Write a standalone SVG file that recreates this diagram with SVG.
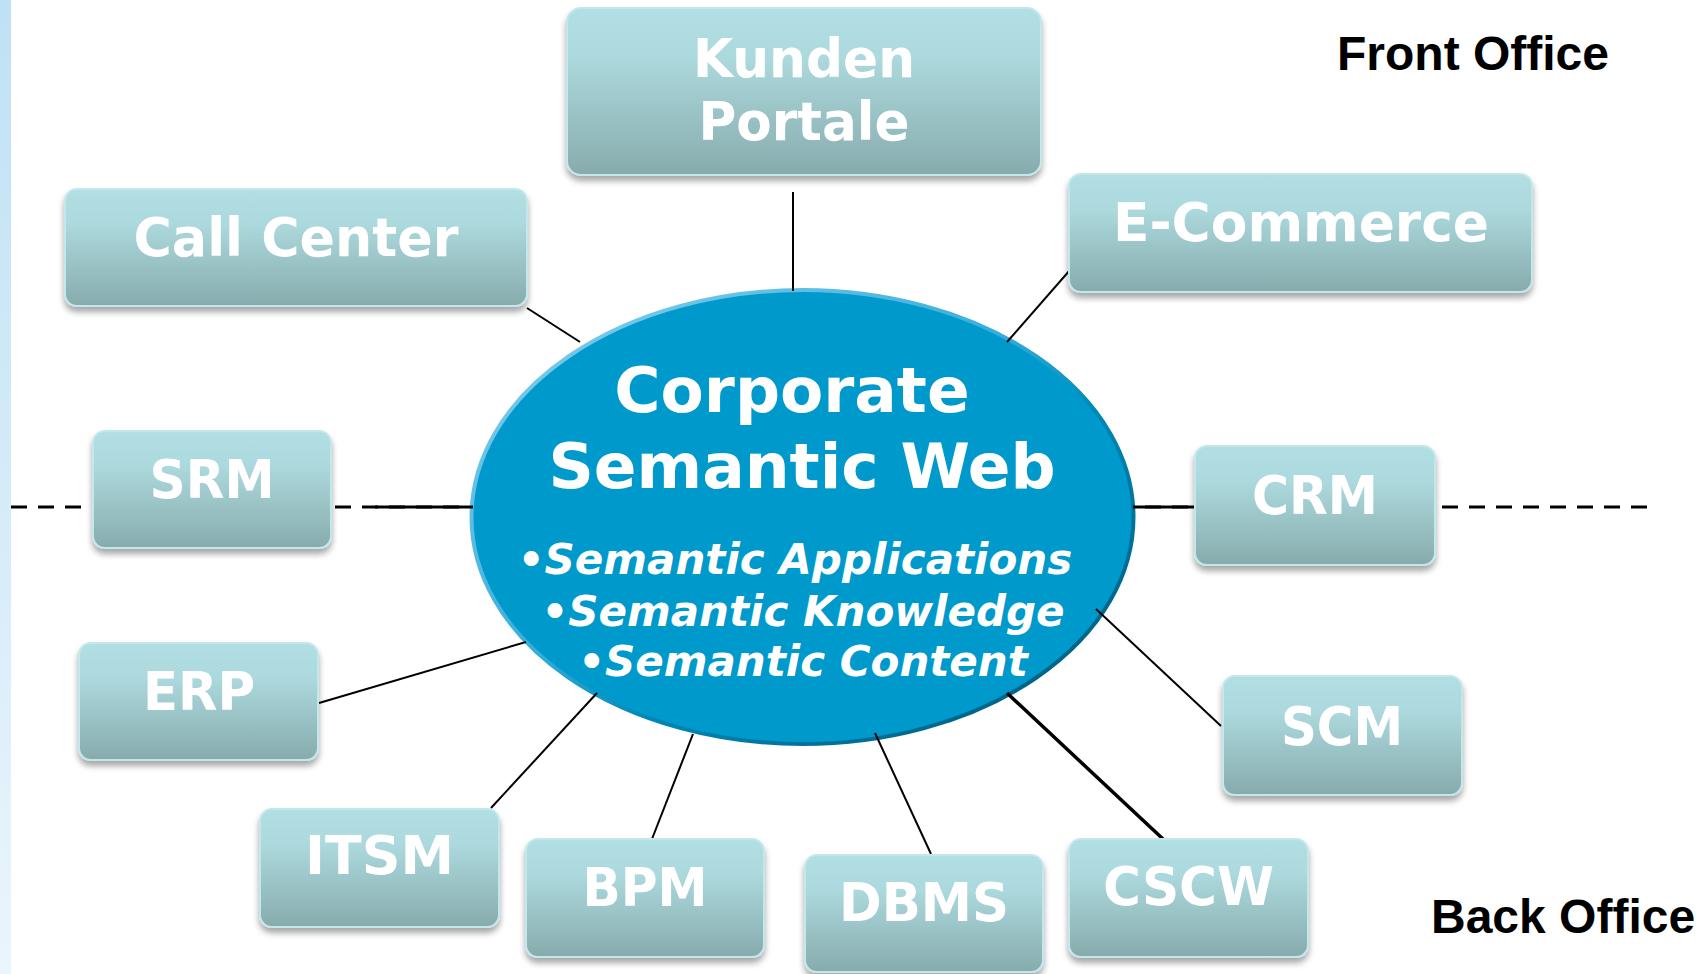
<svg xmlns="http://www.w3.org/2000/svg" width="1696" height="974" viewBox="0 0 1696 974">
  <defs>
    <linearGradient id="boxGrad" x1="0" y1="0" x2="0" y2="1">
      <stop offset="0" stop-color="#b1dfe3"/>
      <stop offset="0.3" stop-color="#acd9dd"/>
      <stop offset="1" stop-color="#87abad"/>
    </linearGradient>
    <linearGradient id="stripGrad" x1="0" y1="0" x2="0" y2="1">
      <stop offset="0" stop-color="#bfe1f5"/>
      <stop offset="1" stop-color="#eaf5fc"/>
    </linearGradient>
    <linearGradient id="rimGrad" x1="0" y1="0" x2="1" y2="1">
      <stop offset="0" stop-color="#8fd4ef"/>
      <stop offset="0.45" stop-color="#36addb"/>
      <stop offset="0.6" stop-color="#0089b8"/>
      <stop offset="1" stop-color="#00516e"/>
    </linearGradient>
    <filter id="shadow" x="-10%" y="-10%" width="120%" height="135%">
      <feDropShadow dx="0" dy="5" stdDeviation="3" flood-color="#000" flood-opacity="0.35"/>
    </filter>
  </defs>
  <style>
    .box { fill: url(#boxGrad); stroke: #c2e8ec; stroke-width: 2; filter: url(#shadow); }
    .lbl { font-family: "DejaVu Sans", Verdana, sans-serif; font-weight: bold; font-size: 54px; fill: #ffffff; text-anchor: middle; }
    .title { font-family: "DejaVu Sans", Verdana, sans-serif; font-weight: bold; font-size: 63px; fill: #ffffff; text-anchor: middle; }
    .bullet { font-family: "DejaVu Sans", Verdana, sans-serif; font-weight: bold; font-style: italic; font-size: 42px; fill: #ffffff; text-anchor: middle; }
    .office { font-family: "Liberation Sans", Arial, sans-serif; font-weight: bold; font-size: 48px; fill: #000000; }
    .conn { stroke: #000000; stroke-width: 2; fill: none; }
    .thick { stroke-width: 3; }
    .heavy { stroke-width: 3.5; }
    .sep { stroke: #000000; stroke-width: 3; stroke-dasharray: 16 11; fill: none; }
  </style>

  <rect x="0" y="0" width="1696" height="974" fill="#ffffff"/>
  <rect x="0" y="0" width="11" height="974" fill="url(#stripGrad)"/>

  <g id="separator">
    <line class="sep" x1="11" y1="507" x2="1649" y2="507"/>
  </g>

  <g id="node-core">
    <ellipse cx="802.5" cy="517" rx="331" ry="227" fill="#0099cc" stroke="url(#rimGrad)" stroke-width="4"/>
    <text class="title" x="792" y="412">Corporate</text>
    <text class="title" x="802" y="488">Semantic Web</text>
    <text class="bullet" x="795" y="574">•Semantic Applications</text>
    <text class="bullet" x="803" y="626">•Semantic Knowledge</text>
    <text class="bullet" x="803" y="676">•Semantic Content</text>
  </g>

  <g id="connectors">
    <line class="conn" x1="793" y1="192" x2="793" y2="291"/>
    <line class="conn" x1="527" y1="308" x2="580" y2="342"/>
    <line class="conn" x1="1070" y1="270" x2="1007" y2="342"/>
    <line class="conn thick" x1="375" y1="507" x2="473" y2="507"/>
    <line class="conn thick" x1="1133" y1="507" x2="1195" y2="507"/>
    <line class="conn" x1="319" y1="703" x2="526" y2="642"/>
    <line class="conn" x1="1096" y1="609" x2="1221" y2="726"/>
    <line class="conn" x1="491" y1="808" x2="597" y2="693"/>
    <line class="conn" x1="652" y1="839" x2="693" y2="734"/>
    <line class="conn" x1="875" y1="733" x2="931" y2="854"/>
    <line class="conn heavy" x1="1007" y1="693" x2="1163" y2="839"/>
  </g>

  <g id="node-kunden">
    <rect class="box" x="567" y="8" width="474" height="167" rx="14"/>
    <text class="lbl" x="804" y="77" textLength="222" lengthAdjust="spacingAndGlyphs">Kunden</text>
    <text class="lbl" x="804" y="140" textLength="211" lengthAdjust="spacingAndGlyphs">Portale</text>
  </g>
  <g id="node-callcenter">
    <rect class="box" x="65" y="189" width="462" height="117" rx="12"/>
    <text class="lbl" x="296" y="256" textLength="325" lengthAdjust="spacingAndGlyphs">Call Center</text>
  </g>
  <g id="node-ecommerce">
    <rect class="box" x="1069" y="174" width="463" height="118" rx="12"/>
    <text class="lbl" x="1301" y="241" textLength="376" lengthAdjust="spacingAndGlyphs">E-Commerce</text>
  </g>
  <g id="node-srm">
    <rect class="box" x="93" y="431" width="238" height="117" rx="12"/>
    <text class="lbl" x="212" y="498" textLength="125" lengthAdjust="spacingAndGlyphs">SRM</text>
  </g>
  <g id="node-crm">
    <rect class="box" x="1195" y="446" width="240" height="119" rx="12"/>
    <text class="lbl" x="1315" y="514" textLength="126" lengthAdjust="spacingAndGlyphs">CRM</text>
  </g>
  <g id="node-erp">
    <rect class="box" x="79" y="643" width="239" height="117" rx="12"/>
    <text class="lbl" x="199" y="710" textLength="112" lengthAdjust="spacingAndGlyphs">ERP</text>
  </g>
  <g id="node-scm">
    <rect class="box" x="1223" y="676" width="239" height="119" rx="12"/>
    <text class="lbl" x="1342" y="745" textLength="122" lengthAdjust="spacingAndGlyphs">SCM</text>
  </g>
  <g id="node-itsm">
    <rect class="box" x="260" y="809" width="239" height="118" rx="12"/>
    <text class="lbl" x="379.5" y="874" textLength="149" lengthAdjust="spacingAndGlyphs">ITSM</text>
  </g>
  <g id="node-bpm">
    <rect class="box" x="526" y="839" width="238" height="118" rx="12"/>
    <text class="lbl" x="645" y="906" textLength="125" lengthAdjust="spacingAndGlyphs">BPM</text>
  </g>
  <g id="node-dbms">
    <rect class="box" x="805" y="855" width="238" height="117" rx="12"/>
    <text class="lbl" x="924" y="921" textLength="170" lengthAdjust="spacingAndGlyphs">DBMS</text>
  </g>
  <g id="node-cscw">
    <rect class="box" x="1069" y="839" width="239" height="118" rx="12"/>
    <text class="lbl" x="1188.5" y="905" textLength="171" lengthAdjust="spacingAndGlyphs">CSCW</text>
  </g>

  <g id="labels">
    <text class="office" x="1337" y="70">Front Office</text>
    <text class="office" x="1431" y="933">Back Office</text>
  </g>
</svg>
